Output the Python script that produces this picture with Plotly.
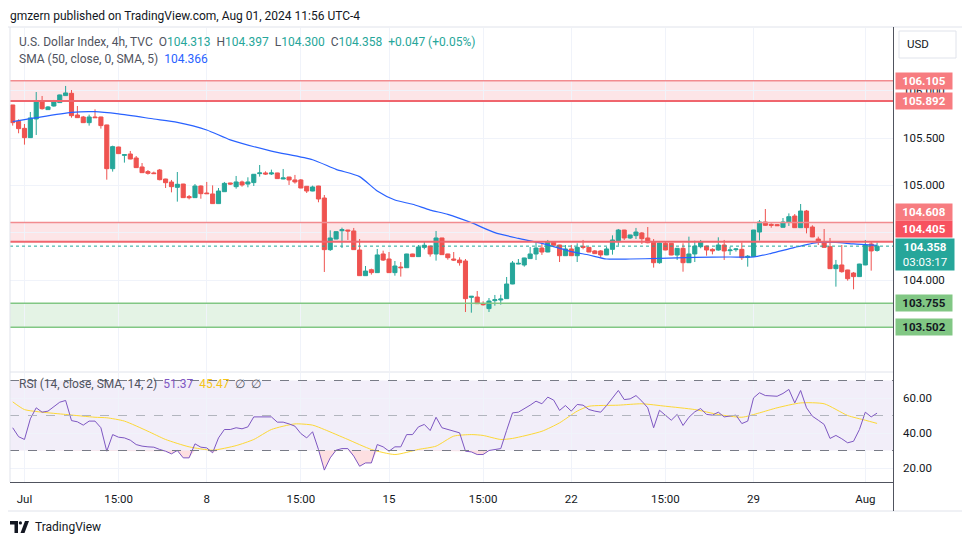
import plotly.graph_objects as go

# the page body has an 8px margin, so the figure is drawn 8px in from the window edge
OFF = 8
W, H = 970 - OFF, 545 - OFF

# ---- price data (4h candles, Jun 28 -> Aug 01 2024) ----
opens = [105.849, 105.676, 105.602, 105.504, 105.701, 105.881, 105.800, 105.838, 105.874, 105.948,
         105.972, 105.743, 105.722, 105.662, 105.722, 105.722, 105.638, 105.176, 105.405, 105.317,
         105.331, 105.289, 105.194, 105.145, 105.131, 105.162, 105.067, 105.035, 104.979, 105.014,
         104.881, 104.870, 104.993, 104.919, 104.909, 104.807, 104.933, 105.025, 104.986, 105.036,
         105.014, 105.029, 105.124, 105.131, 105.120, 105.131, 105.067, 105.088, 105.057, 105.057,
         104.990, 104.940, 104.993, 104.866, 104.321, 104.433, 104.521, 104.528, 104.518, 104.317,
         104.046, 104.109, 104.078, 104.275, 104.222, 104.078, 104.137, 104.130, 104.275, 104.247,
         104.345, 104.359, 104.275, 104.444, 104.275, 104.222, 104.211, 104.201, 103.817, 103.820,
         103.750, 103.698, 103.782, 103.789, 103.803, 103.958, 104.169, 104.159, 104.226, 104.275,
         104.338, 104.296, 104.405, 104.370, 104.257, 104.328, 104.257, 104.356, 104.345, 104.307,
         104.307, 104.265, 104.324, 104.416, 104.528, 104.444, 104.469, 104.497, 104.444, 104.398,
         104.183, 104.388, 104.388, 104.264, 104.335, 104.183, 104.275, 104.352, 104.359, 104.324,
         104.317, 104.370, 104.310, 104.321, 104.324, 104.240, 104.247, 104.507, 104.613, 104.588,
         104.585, 104.557, 104.609, 104.676, 104.553, 104.729, 104.560, 104.433, 104.405, 104.352,
         104.120, 104.159, 104.106, 104.074, 104.036, 104.159, 104.381, 104.313]
highs = [105.849, 105.697, 105.648, 105.775, 105.986, 105.944, 105.838, 105.902, 105.958, 106.050,
         106.007, 105.838, 105.733, 105.747, 105.803, 105.725, 105.640, 105.419, 105.408, 105.331,
         105.363, 105.310, 105.236, 105.162, 105.145, 105.173, 105.069, 105.057, 105.141, 105.016,
         104.898, 105.014, 105.000, 105.036, 105.000, 104.972, 105.036, 105.027, 105.099, 105.050,
         105.085, 105.119, 105.215, 105.148, 105.166, 105.133, 105.173, 105.090, 105.110, 105.067,
         104.992, 104.997, 104.995, 104.898, 104.525, 104.513, 104.553, 104.530, 104.550, 104.433,
         104.148, 104.120, 104.328, 104.310, 104.296, 104.201, 104.190, 104.277, 104.277, 104.370,
         104.402, 104.361, 104.518, 104.446, 104.277, 104.296, 104.240, 104.222, 103.830, 103.884,
         103.775, 103.810, 103.842, 103.845, 104.032, 104.201, 104.222, 104.235, 104.349, 104.398,
         104.388, 104.423, 104.407, 104.372, 104.370, 104.370, 104.388, 104.423, 104.347, 104.317,
         104.317, 104.349, 104.472, 104.539, 104.530, 104.478, 104.550, 104.507, 104.560, 104.433,
         104.393, 104.412, 104.390, 104.337, 104.388, 104.458, 104.416, 104.423, 104.361, 104.335,
         104.451, 104.423, 104.352, 104.335, 104.398, 104.264, 104.530, 104.634, 104.750, 104.599,
         104.592, 104.655, 104.704, 104.697, 104.803, 104.740, 104.578, 104.458, 104.539, 104.444,
         104.212, 104.370, 104.108, 104.085, 104.171, 104.423, 104.405, 104.397]
lows = [105.631, 105.550, 105.430, 105.500, 105.532, 105.800, 105.796, 105.831, 105.872, 105.945,
        105.715, 105.712, 105.660, 105.631, 105.713, 105.599, 105.060, 105.145, 105.333, 105.240,
        105.276, 105.185, 105.132, 105.113, 105.122, 105.053, 104.972, 104.926, 104.828, 104.868,
        104.852, 104.868, 104.859, 104.910, 104.805, 104.805, 104.931, 105.004, 104.965, 104.986,
        104.979, 104.993, 105.092, 105.110, 105.110, 105.069, 105.065, 105.004, 105.018, 104.970,
        104.919, 104.938, 104.821, 104.085, 104.307, 104.431, 104.338, 104.423, 104.319, 104.044,
        104.044, 104.057, 104.076, 104.201, 104.076, 104.046, 104.036, 104.128, 104.245, 104.245,
        104.324, 104.247, 104.205, 104.266, 104.215, 104.201, 104.152, 103.662, 103.655, 103.748,
        103.729, 103.662, 103.729, 103.740, 103.801, 103.956, 104.167, 104.141, 104.224, 104.211,
        104.265, 104.294, 104.365, 104.190, 104.255, 104.255, 104.190, 104.324, 104.294, 104.277,
        104.243, 104.263, 104.268, 104.363, 104.423, 104.433, 104.433, 104.381, 104.388, 104.131,
        104.173, 104.315, 104.262, 104.212, 104.088, 104.181, 104.190, 104.335, 104.257, 104.271,
        104.310, 104.212, 104.264, 104.300, 104.212, 104.141, 104.245, 104.416, 104.571, 104.553,
        104.571, 104.555, 104.571, 104.551, 104.551, 104.493, 104.453, 104.370, 104.343, 104.118,
        103.930, 104.078, 103.993, 103.902, 104.034, 104.157, 104.099, 104.300]
closes = [105.662, 105.599, 105.504, 105.712, 105.881, 105.810, 105.828, 105.881, 105.955, 105.976,
          105.736, 105.715, 105.662, 105.722, 105.715, 105.631, 105.176, 105.409, 105.335, 105.324,
          105.278, 105.187, 105.134, 105.127, 105.124, 105.060, 105.028, 104.986, 105.011, 104.870,
          104.870, 104.993, 104.912, 104.912, 104.807, 104.940, 105.021, 105.014, 105.036, 105.004,
          105.036, 105.117, 105.131, 105.120, 105.131, 105.071, 105.078, 105.057, 105.036, 104.972,
          104.940, 104.983, 104.856, 104.321, 104.444, 104.511, 104.532, 104.518, 104.321, 104.046,
          104.095, 104.078, 104.265, 104.211, 104.078, 104.148, 104.130, 104.275, 104.247, 104.349,
          104.367, 104.275, 104.444, 104.268, 104.236, 104.211, 104.183, 103.803, 103.828, 103.750,
          103.740, 103.778, 103.792, 103.799, 103.958, 104.180, 104.176, 104.233, 104.275, 104.338,
          104.296, 104.405, 104.367, 104.257, 104.328, 104.257, 104.345, 104.345, 104.296, 104.279,
          104.265, 104.328, 104.423, 104.528, 104.444, 104.476, 104.507, 104.437, 104.394, 104.183,
          104.391, 104.317, 104.264, 104.335, 104.183, 104.275, 104.359, 104.405, 104.317, 104.307,
          104.370, 104.307, 104.317, 104.328, 104.236, 104.250, 104.528, 104.613, 104.578, 104.578,
          104.574, 104.613, 104.669, 104.553, 104.729, 104.553, 104.455, 104.398, 104.345, 104.120,
          104.159, 104.088, 104.014, 104.036, 104.169, 104.370, 104.307, 104.358]
bars = list(range(len(closes)))

# SMA(50) at sparse bars
sma_bars = [0, 4, 10, 14, 18, 24, 28, 33, 37, 44, 51, 55, 59, 62, 65, 68, 71, 74, 78, 82, 86, 90,
            95, 98, 101, 105, 110, 116, 122, 126, 129, 133, 137, 140, 143, 147]
sma_vals = [105.673, 105.715, 105.771, 105.778, 105.754, 105.701, 105.666, 105.585, 105.480, 105.362,
            105.270, 105.169, 105.092, 104.940, 104.845, 104.800, 104.739, 104.694, 104.606, 104.500,
            104.440, 104.387, 104.300, 104.264, 104.222, 104.222, 104.228, 104.240, 104.243, 104.243,
            104.282, 104.345, 104.398, 104.398, 104.381, 104.366]

# RSI(14) and its SMA(14)
rsi = [43.0, 37.9, 36.3, 48.1, 54.4, 51.9, 52.5, 54.8, 57.6, 58.6, 47.1, 46.4, 44.5, 46.8, 46.8,
       43.0, 29.6, 39.1, 37.6, 37.2, 35.9, 33.4, 32.5, 32.1, 31.9, 30.6, 29.6, 28.1, 30.0, 25.8,
       25.8, 33.8, 31.9, 31.5, 28.7, 37.2, 42.0, 42.0, 43.0, 42.4, 43.5, 49.2, 49.2, 49.2, 49.2,
       46.2, 46.2, 45.2, 43.9, 39.7, 37.2, 40.7, 30.6, 18.8, 25.8, 30.2, 31.1, 31.1, 26.8, 21.0,
       22.9, 22.9, 33.4, 32.1, 29.6, 32.1, 32.1, 39.1, 39.1, 43.5, 44.9, 41.4, 49.0, 43.0, 42.0,
       41.0, 40.1, 29.6, 29.2, 27.7, 27.7, 30.0, 30.6, 31.1, 41.5, 51.5, 51.9, 53.8, 55.9, 58.2,
       56.7, 60.5, 58.8, 52.9, 55.7, 52.5, 56.3, 55.9, 53.4, 52.5, 51.9, 55.7, 60.1, 64.3, 59.1,
       59.5, 61.4, 58.2, 54.4, 43.0, 53.0, 50.2, 47.3, 50.6, 44.3, 49.0, 52.1, 54.0, 50.6, 50.2,
       51.9, 49.2, 49.6, 50.2, 45.4, 46.8, 60.1, 63.0, 61.4, 61.0, 61.0, 62.6, 64.9, 57.2, 64.3,
       54.4, 49.6, 47.3, 44.9, 36.9, 38.6, 36.7, 34.4, 35.3, 42.0, 51.9, 49.2, 51.37]
rsi_ma_bars = [0, 2, 5, 9, 14, 16, 19, 23, 26, 30, 34, 38, 41, 44, 48, 51, 53, 57, 61, 65, 69, 72,
               75, 78, 80, 83, 85, 90, 93, 96, 98, 103, 107, 111, 116, 120, 124, 127, 130, 134,
               138, 142, 145, 147]
rsi_ma_vals = [57.8, 53.4, 51.9, 50.6, 49.0, 48.7, 46.8, 41.0, 36.3, 32.1, 30.2, 32.8, 36.3, 42.0,
               45.2, 44.5, 42.0, 36.3, 30.6, 27.7, 30.6, 32.5, 38.2, 39.1, 38.6, 36.3, 36.9, 41.0,
               45.8, 52.5, 55.3, 55.9, 56.7, 55.3, 53.4, 50.6, 49.0, 51.5, 54.4, 57.2, 56.7, 50.0,
               47.3, 45.47]

# zones and axis tags
resist_zones = [(105.892, 106.105), (104.405, 104.608)]
support_zone = (103.502, 103.755)
last_price = 104.358
countdown = "03:03:17"
price_ticks = [103.5, 104.0, 104.5, 105.0, 105.5, 106.0]
price_tick_text = ["", "104.000", "", "105.000", "105.500", "106.000"]  # others sit under tags
rsi_ticks = [20, 40, 60]
rsi_levels = [30, 50, 70]
time_ticks = [2, 18, 33, 49, 64, 80, 95, 111, 126, 145]
time_labels = ["Jul", "15:00", "8", "15:00", "15", "15:00", "22", "15:00", "29", "Aug"]

UP, DOWN = "#26a69a", "#ef5350"
TXT = "#131722"
GRID = "#f0f3fa"
FONT = "Roboto"


def px(x):
    # window pixel -> paper fraction
    return (x - OFF) / W


def py(y):
    return 1 - (y - OFF) / H


x_dom = [px(10), px(893)]
xr = [-0.46, 149.71]

fig = go.Figure()

fig.add_trace(go.Candlestick(
    x=bars, open=opens, high=highs, low=lows, close=closes,
    increasing=dict(line=dict(color=UP, width=1), fillcolor=UP),
    decreasing=dict(line=dict(color=DOWN, width=1), fillcolor=DOWN),
    whiskerwidth=0, xaxis="x", yaxis="y", hoverinfo="skip"))

fig.add_trace(go.Scatter(x=sma_bars, y=sma_vals, mode="lines",
                         line=dict(color="#2962ff", width=1.2, shape="spline", smoothing=0.6),
                         xaxis="x", yaxis="y", hoverinfo="skip"))

# RSI oversold fill
fig.add_trace(go.Scatter(x=bars, y=[30] * len(rsi), mode="lines", line=dict(width=0),
                         xaxis="x2", yaxis="y2", hoverinfo="skip"))
fig.add_trace(go.Scatter(x=bars, y=[min(v, 30) for v in rsi], mode="lines", line=dict(width=0),
                         fill="tonexty", fillcolor="rgba(242,54,69,0.16)",
                         xaxis="x2", yaxis="y2", hoverinfo="skip"))
fig.add_trace(go.Scatter(x=rsi_ma_bars, y=rsi_ma_vals, mode="lines",
                         line=dict(color="#fdd835", width=1, shape="spline", smoothing=0.6),
                         xaxis="x2", yaxis="y2", hoverinfo="skip"))
fig.add_trace(go.Scatter(x=bars, y=rsi, mode="lines", line=dict(color="#7e57c2", width=1),
                         xaxis="x2", yaxis="y2", hoverinfo="skip"))

shapes = []
# zones
for lo, hi in resist_zones:
    shapes.append(dict(type="rect", xref="x domain", yref="y", x0=0, x1=1, y0=lo, y1=hi,
                       fillcolor="rgba(242,54,69,0.13)", line=dict(width=0), layer="below"))
    shapes.append(dict(type="line", xref="x domain", yref="y", x0=0, x1=1, y0=hi, y1=hi,
                       line=dict(color="#f28b8f", width=1.5)))
    shapes.append(dict(type="line", xref="x domain", yref="y", x0=0, x1=1, y0=lo, y1=lo,
                       line=dict(color="#f0666e", width=2)))
lo, hi = support_zone
shapes.append(dict(type="rect", xref="x domain", yref="y", x0=0, x1=1, y0=lo, y1=hi,
                   fillcolor="rgba(76,175,80,0.15)", line=dict(width=0), layer="below"))
for v in support_zone:
    shapes.append(dict(type="line", xref="x domain", yref="y", x0=0, x1=1, y0=v, y1=v,
                       line=dict(color="#81c784", width=1.5)))
# last price dotted line
shapes.append(dict(type="line", xref="x domain", yref="y", x0=0, x1=1, y0=last_price, y1=last_price,
                   line=dict(color=UP, width=1, dash="dot")))
# RSI band
shapes.append(dict(type="rect", xref="x2 domain", yref="y2", x0=0, x1=1, y0=rsi_levels[0],
                   y1=rsi_levels[2], fillcolor="rgba(126,87,194,0.1)", line=dict(width=0),
                   layer="below"))
for v in rsi_levels:
    shapes.append(dict(type="line", xref="x2 domain", yref="y2", x0=0, x1=1, y0=v, y1=v,
                       line=dict(color="#787b86" if v != 50 else "#b2b5be", width=1, dash="dash")))
# frame, separators, right axis line
shapes += [
    dict(type="line", xref="paper", yref="paper", x0=px(3), x1=px(963), y0=py(27), y1=py(27),
         line=dict(color="#e0e3eb", width=1)),
    dict(type="line", xref="paper", yref="paper", x0=px(3), x1=px(963), y0=py(511), y1=py(511),
         line=dict(color="#e0e3eb", width=1)),
    dict(type="line", xref="paper", yref="paper", x0=px(963), x1=px(963), y0=py(27), y1=py(511),
         line=dict(color="#e0e3eb", width=1)),
    dict(type="line", xref="paper", yref="paper", x0=px(10), x1=px(10), y0=py(27), y1=py(482),
         line=dict(color="#e0e3eb", width=1)),
    dict(type="line", xref="paper", yref="paper", x0=px(10), x1=px(893), y0=py(372), y1=py(372),
         line=dict(color="#e0e3eb", width=1)),
    dict(type="line", xref="paper", yref="paper", x0=px(893.5), x1=px(893.5), y0=py(27), y1=py(511),
         line=dict(color="#50535e", width=1)),
    dict(type="rect", xref="paper", yref="paper", x0=px(899), x1=px(956), y0=py(58), y1=py(31),
         line=dict(color="#e0e3eb", width=1), fillcolor="white"),
    # TradingView logo
    dict(type="path", xref="paper", yref="paper", line=dict(width=0), fillcolor="#131722",
         path=f"M {px(10)},{py(521)} L {px(18)},{py(521)} L {px(18)},{py(533)} L {px(14.5)},{py(533)} "
              f"L {px(14.5)},{py(524.5)} L {px(10)},{py(524.5)} Z"),
    dict(type="circle", xref="paper", yref="paper", x0=px(18.8), x1=px(22), y0=py(524.5), y1=py(521.3),
         line=dict(width=0), fillcolor="#131722"),
    dict(type="path", xref="paper", yref="paper", line=dict(width=0), fillcolor="#131722",
         path=f"M {px(25)},{py(521)} L {px(29)},{py(521)} L {px(24.5)},{py(533)} L {px(20.5)},{py(533)} Z"),
]

annotations = []


def note(x, y, text, size=11, color=TXT, xanchor="left", yanchor="middle", **kw):
    annotations.append(dict(xref="paper", yref="paper", x=px(x), y=py(y), text=text, showarrow=False,
                            xanchor=xanchor, yanchor=yanchor,
                            font=dict(family=FONT, size=size, color=color), **kw))


note(9, 8, "gmzern published on TradingView.com, Aug 01, 2024 11:56 UTC-4", size=12,
     color="#131722", yanchor="top", borderpad=0)
g = "#26a69a"
nb = "\u00a0"
legend1 = ("U.S. Dollar Index, 4h, TVC" + nb * 2 +
           f"O<span style='color:{g}'>{opens[-1]:.3f}</span>" + nb * 2 +
           f"H<span style='color:{g}'>{highs[-1]:.3f}</span>" + nb * 2 +
           f"L<span style='color:{g}'>{lows[-1]:.3f}</span>" + nb * 2 +
           f"C<span style='color:{g}'>{closes[-1]:.3f}</span>" + nb * 2 +
           f"<span style='color:{g}'>+0.047 (+0.05%)</span>")
note(17, 42, legend1, size=12, color="#50535e")
note(17, 59, "SMA (50, close, 0, SMA, 5)" + nb * 2 +
     f"<span style='color:#2962ff'>{sma_vals[-1]:.3f}</span>", size=12, color="#50535e")
note(17, 384, "RSI (14, close, SMA, 14, 2)" + nb * 2 +
     f"<span style='color:#7e57c2'>{rsi[-1]:.2f}</span>" + nb * 2 +
     f"<span style='color:#f5c518'>{rsi_ma_vals[-1]:.2f}</span>" + nb * 2 + "∅" + nb * 2 + "∅",
     size=12, color="#50535e")
note(905, 44, "USD", size=11.5)
note(33, 527, "TradingView", size=12, color="#131722")

# price tags on the right axis (the two tags next to the last price are nudged up,
# as TradingView does to keep them from colliding)
tags = [(resist_zones[0][1], "#f77c80", "white", 0), (resist_zones[0][0], "#f77c80", "white", 0),
        (resist_zones[1][1], "#f77c80", "white", 10.4), (resist_zones[1][0], "#f7525f", "white", 12.7),
        (support_zone[1], "#81c784", TXT, 0), (support_zone[0], "#81c784", TXT, 0)]
for v, bg, fg, shift in tags:
    annotations.append(dict(xref="paper", yref="y", x=px(895), y=v, text=f"<b>{v:.3f}</b>",
                            showarrow=False, xanchor="left", yanchor="middle", width=54, height=14,
                            bgcolor=bg, align="center", borderpad=1, yshift=shift,
                            font=dict(family=FONT, size=11.5, color=fg)))
annotations.append(dict(xref="paper", yref="y", x=px(895), y=last_price,
                        text=f"<b>{last_price:.3f}</b><br>{countdown}", showarrow=False,
                        xanchor="left", yanchor="top", yshift=8, width=56, height=29,
                        bgcolor=UP, align="center", borderpad=1,
                        font=dict(family=FONT, size=11.5, color="white")))

fig.update_layout(
    width=W, height=H, margin=dict(l=0, r=0, t=0, b=0),
    paper_bgcolor="white", plot_bgcolor="white", showlegend=False, hovermode=False,
    boxgap=0.3, boxgroupgap=0,
    font=dict(family=FONT, color=TXT),
    shapes=shapes, annotations=annotations,
    xaxis=dict(domain=x_dom, range=xr, anchor="y", tickvals=time_ticks, showticklabels=False,
               showgrid=True, gridcolor=GRID, zeroline=False, showline=False, ticks="",
               rangeslider=dict(visible=False)),
    yaxis=dict(domain=[py(371), py(28)], range=[103.039, 106.662], anchor="x", side="right",
               tickvals=price_ticks, ticktext=price_tick_text,
               showgrid=True, gridcolor=GRID, zeroline=False, ticks="", ticklabelstandoff=9,
               tickfont=dict(family=FONT, size=11.5, color=TXT)),
    xaxis2=dict(domain=x_dom, range=xr, anchor="y2", tickvals=time_ticks, ticktext=time_labels,
                showgrid=True, gridcolor=GRID, zeroline=False, showline=True, linecolor="#50535e",
                linewidth=1, ticks="", ticklabelstandoff=6,
                tickfont=dict(family=FONT, size=11.5, color=TXT)),
    yaxis2=dict(domain=[py(482), py(373)], range=[12.0, 74.29], anchor="x2", side="right",
                tickvals=rsi_ticks, ticktext=[f"{v:.2f}" for v in rsi_ticks],
                showgrid=True, gridcolor=GRID, zeroline=False, ticks="", ticklabelstandoff=9,
                tickfont=dict(family=FONT, size=11.5, color=TXT)),
)

fig.write_html("out.html")
